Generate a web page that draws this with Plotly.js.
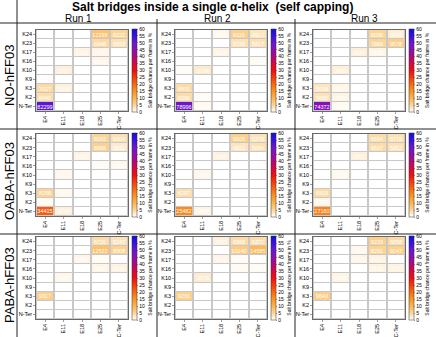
<!DOCTYPE html>
<html>
<head>
<meta charset="utf-8">
<script src="https://cdn.plot.ly/plotly-3.0.1.min.js"></script>
<style>html,body{margin:0;padding:0;background:#fff;}#chart{width:436px;height:337px;}</style>
</head>
<body>
<div id="chart"></div>
<script>
// Categories
const xCats = ['E4','E11','E18','E25','C-Ter'];
const yCats = ['K24','K23','K17','K16','K10','K9','K3','K2','N-Ter'];
const runLabels = ['Run 1','Run 2','Run 3'];
const systemLabels = ['NO-hFF03','OABA-hFF03','PABA-hFF03'];
const totalFrames = 160000;
const colorbarTicks = [0,5,10,15,20,25,30,35,40,45,50,55,60];

// Salt bridge counts (rows: K24..N-Ter, cols: E4,E11,E18,E25,C-Ter)
const noRun1 = [
 [0,0,0,12299,8222],
 [0,0,0,6948,5893],
 [0,0,2110,1700,0],
 [0,0,0,1636,0],
 [0,2717,0,0,0],
 [400,0,0,0,0],
 [7027,2536,0,0,0],
 [6440,0,0,0,0],
 [82299,0,0,0,0]];
const noRun2 = [
 [0,0,1500,9116,4912],
 [0,0,0,5728,5817],
 [0,0,2090,0,0],
 [0,0,0,0,900],
 [700,3796,0,0,0],
 [0,0,0,0,0],
 [6831,0,0,0,0],
 [6596,1000,0,0,0],
 [78996,1200,0,0,0]];
const noRun3 = [
 [0,0,0,8036,3346],
 [0,0,0,7869,9578],
 [0,0,2937,1835,0],
 [0,0,0,0,0],
 [0,2930,0,0,0],
 [0,0,0,0,0],
 [5008,1800,0,0,0],
 [5656,2018,0,0,0],
 [74372,1200,0,0,0]];
const oabaRun1 = [
 [0,0,0,8092,6004],
 [0,0,0,8956,3831],
 [0,0,2021,0,0],
 [0,0,0,800,1500],
 [0,1521,0,0,0],
 [0,0,0,0,0],
 [8208,1600,0,0,0],
 [1200,0,0,0,0],
 [34415,2704,0,0,0]];
const oabaRun2 = [
 [0,0,0,9505,5276],
 [0,0,0,4921,5834],
 [0,0,2500,0,0],
 [0,0,0,0,300],
 [0,1481,0,0,0],
 [0,0,0,0,0],
 [6297,0,0,0,0],
 [400,0,0,0,0],
 [25482,1900,0,0,0]];
const oabaRun3 = [
 [0,0,0,6694,5779],
 [0,0,0,6837,5852],
 [0,0,2892,0,0],
 [0,0,0,0,300],
 [0,1420,0,0,0],
 [0,0,0,0,0],
 [6918,0,0,0,0],
 [1700,0,0,0,0],
 [27160,0,0,0,0]];
const pabaRun1 = [
 [0,0,0,6726,5247],
 [0,0,0,12522,8908],
 [0,0,1660,1000,0],
 [0,0,0,1826,2242],
 [0,1487,0,0,0],
 [0,0,0,0,0],
 [9317,0,0,0,0],
 [0,0,0,0,0],
 [0,0,0,0,0]];
const pabaRun2 = [
 [0,0,2800,6566,6372],
 [0,0,0,10140,14585],
 [0,0,1872,900,0],
 [0,0,0,1000,800],
 [0,3676,0,0,0],
 [0,0,0,0,0],
 [9231,0,0,0,0],
 [0,0,0,0,0],
 [0,0,0,0,0]];
const pabaRun3 = [
 [0,0,0,9233,6858],
 [0,0,1500,8291,9247],
 [0,0,1722,2321,0],
 [0,0,0,2133,2171],
 [0,1991,0,0,0],
 [0,0,0,0,0],
 [9643,0,0,0,0],
 [0,0,0,0,0],
 [0,0,0,0,0]];

const grid = [[noRun1,noRun2,noRun3],[oabaRun1,oabaRun2,oabaRun3],[pabaRun1,pabaRun2,pabaRun3]];

// Layout geometry (pixels)
const W = 436, H = 337;
const FONT = 'Liberation Sans, Arial, sans-serif';
const colBoxes = [[36,128],[175,267],[313,405]];
const rowBoxes = [[30,111],[134,216],[237,319]];
const fx = p => p / W;
const fy = p => 1 - p / H;

const colorscale = [
 [0.0,'#ffffff'],[0.083,'#fdd596'],[0.167,'#fcb450'],[0.25,'#fb9420'],
 [0.333,'#f86a10'],[0.417,'#f43c0c'],[0.5,'#ee100e'],[0.583,'#d80840'],
 [0.667,'#b00880'],[0.75,'#8c10b0'],[0.833,'#6818d0'],[0.917,'#3a10e0'],[1.0,'#1010e0']];

const traces = [];
const layout = {
  width: W, height: H,
  margin: {l:0,r:0,t:0,b:0},
  paper_bgcolor: '#ffffff',
  plot_bgcolor: '#c8c8c8',
  showlegend: false,
  font: {family: FONT, color: '#000'},
  annotations: [], shapes: []
};

for (let r = 0; r < 3; r++) {
  for (let c = 0; c < 3; c++) {
    const idx = r*3 + c + 1;
    const sfx = idx > 1 ? String(idx) : '';
    const counts = grid[r][c];
    const pct = counts.map(row => row.map(v => v / totalFrames * 100));
    const txt = counts.map(row => row.map(v => v > 0 ? String(v) : ''));
    const [x0,x1] = colBoxes[c];
    const [y0,y1] = rowBoxes[r];
    traces.push({
      type: 'heatmap', x: xCats, y: yCats, z: pct, text: txt,
      texttemplate: '%{text}',
      textfont: {color: '#ffffff', size: 5.5, family: FONT},
      colorscale: colorscale, zmin: 0, zmax: 60,
      xgap: 2, ygap: 1,
      xaxis: 'x' + sfx, yaxis: 'y' + sfx,
      hoverinfo: 'skip',
      colorbar: {
        x: fx(x1 + 4), xanchor: 'left',
        y: fy((y0 + y1) / 2), yanchor: 'middle',
        len: (y1 - y0 + 2) / H, lenmode: 'fraction',
        thickness: 4.5, thicknessmode: 'pixels',
        xpad: 0, ypad: 0,
        outlinewidth: 0.5, outlinecolor: '#333',
        tickvals: colorbarTicks,
        tickfont: {size: 5, family: FONT},
        ticks: 'outside', ticklen: 1.5, tickwidth: 0.5,
        title: {text: 'Salt bridge chance per frame in %', side: 'right', font: {size: 5, family: FONT}}
      }
    });
    layout['xaxis' + sfx] = {
      domain: [fx(x0), fx(x1)], anchor: 'y' + sfx,
      type: 'category', tickangle: -90,
      tickfont: {size: 5.5, family: FONT},
      ticks: 'outside', ticklen: 2, tickwidth: 0.5,
      showline: true, mirror: true, linecolor: '#444', linewidth: 0.8,
      showgrid: false, zeroline: false, fixedrange: true
    };
    layout['yaxis' + sfx] = {
      domain: [fy(y1), fy(y0)], anchor: 'x' + sfx,
      type: 'category', autorange: 'reversed',
      tickfont: {size: 5.5, family: FONT},
      ticks: 'outside', ticklen: 2, tickwidth: 0.5,
      showline: true, mirror: true, linecolor: '#444', linewidth: 0.8,
      showgrid: false, zeroline: false, fixedrange: true
    };
  }
}

// Title
layout.annotations.push({
  text: '<b>Salt bridges inside a single \u03b1-helix  (self capping)</b>',
  xref: 'paper', yref: 'paper', x: fx(212), y: fy(7),
  xanchor: 'center', yanchor: 'middle', showarrow: false,
  font: {size: 12, family: FONT, color: '#000'}
});
// Run labels
const runX = [78, 217, 364];
runLabels.forEach((t, i) => layout.annotations.push({
  text: t, xref: 'paper', yref: 'paper', x: fx(runX[i]), y: fy(19),
  xanchor: 'center', yanchor: 'middle', showarrow: false,
  font: {size: 10, family: FONT, color: '#000'}
}));
// System labels
const sysY = [76, 181, 285];
systemLabels.forEach((t, i) => layout.annotations.push({
  text: t, xref: 'paper', yref: 'paper', x: fx(9), y: fy(sysY[i]),
  xanchor: 'center', yanchor: 'middle', textangle: -90, showarrow: false,
  font: {size: 13, family: FONT, color: '#000'}
}));

// Separator lines
const lineStyle = {color: '#222', width: 1};
const shp = (x0,y0,x1,y1) => ({type:'line', xref:'paper', yref:'paper',
  x0: fx(x0), y0: fy(y0), x1: fx(x1), y1: fy(y1), line: lineStyle, layer: 'below'});
layout.shapes.push(shp(17,0,17,H));
layout.shapes.push(shp(157,19,157,H));
layout.shapes.push(shp(295,19,295,H));
layout.shapes.push(shp(0,23,W,23));
layout.shapes.push(shp(0,129,W,129));
layout.shapes.push(shp(0,234,W,234));

Plotly.newPlot('chart', traces, layout, {staticPlot: true, displayModeBar: false});
</script>
</body>
</html>
